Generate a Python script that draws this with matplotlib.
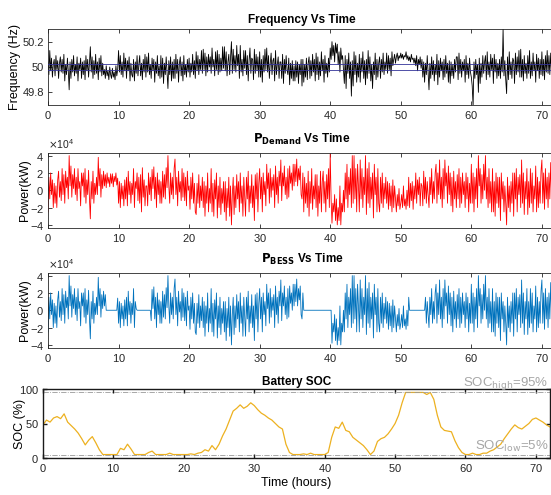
import numpy as np
import matplotlib.pyplot as plt

plt.rcParams['font.family'] = ['Liberation Sans', 'DejaVu Sans']
plt.rcParams['axes.formatter.use_mathtext'] = True

# time base for the fast signals (7.5 min steps) and for SOC (30 min steps)
hours = np.arange(0, 72.001, 0.125)
hours_soc = np.arange(0, 72.01, 0.5)

# grid frequency deviation from 50 Hz, in mHz (one row = one hour)
freq_dev_mhz = [
    40, -60, 130, -30, 70, -80, 20, 60,
    -70, 90, -20, 50, -90, 30, 80, -40,
    60, -50, 100, -110, 20, -60, 70, -30,
    -180, 40, -90, 60, -40, 90, -70, 20,
    -50, 80, -110, 30, -20, 70, -90, 40,
    -60, 50, -100, 90, -30, 60, -80, 30,
    160, -40, 80, -90, 50, -60, 100, -50,
    40, -100, 70, -40, 90, -70, 30, -60,
    -20, -90, 10, -70, -30, -100, 0, -60,
    -90, -10, -80, -40, -100, 10, -70, -20,
    130, -40, 90, -60, 40, -80, 110, -30,
    70, -90, 50, -30, 80, -110, 30, -60,
    -80, 60, -110, 40, -50, 90, -70, 20,
    90, -70, 30, -100, 60, -40, 100, -80,
    80, -40, 110, -60, 20, -90, 70, -30,
    60, -120, 40, -50, 90, -70, 10, -90,
    90, -80, 70, -130, 30, -60, 80, -40,
    -170, 50, -60, 80, -110, 40, -90, 60,
    -90, 100, -50, 60, -120, 30, 80, -70,
    40, -110, 90, -60, 20, -80, 60, -40,
    70, -80, 30, -40, 100, -60, 50, -90,
    120, -30, 90, -60, 60, -20, 130, -50,
    140, -20, 110, -70, 80, -40, 100, 0,
    80, -50, 150, 0, 60, -70, 120, -20,
    130, -60, 100, -40, 70, -30, 160, -10,
    160, -30, 120, -70, 40, 100, -60, 80,
    200, -50, 140, -20, 90, -40, 170, 10,
    100, -90, 170, -40, 60, -70, 130, -10,
    130, -60, 90, -110, 50, 150, -50, 70,
    60, -100, 140, -50, 100, -30, 80, -80,
    120, -80, 60, -120, 90, -40, 140, -20,
    150, -40, 90, -90, 30, 110, -60, 50,
    70, -110, 130, -60, 20, 80, -90, 40,
    40, -90, 100, -130, 60, -50, 90, -20,
    -60, 70, -140, 30, -90, 50, -110, 10,
    -110, 50, -80, 40, -130, 20, -60, 60,
    -150, 60, -120, 20, -80, 70, -100, 30,
    80, -90, 50, -70, 100, -40, 60, -110,
    110, -60, 80, -100, 40, -70, 120, -30,
    60, -120, 90, -50, 30, -80, 70, -40,
    150, 60, 200, 90, 170, 40, 190, 110,
    180, 20, 120, -40, 150, 60, 90, -20,
    -130, 90, -170, 60, -50, 110, -90, 40,
    -230, 50, -150, 120, -60, 90, -120, 30,
    -80, 100, -120, 70, -40, 120, -90, 50,
    -140, 60, -90, 130, -50, 80, -110, 20,
    -170, 40, -60, 110, -100, 60, -80, 30,
    80, -90, 60, -40, 110, -60, 40, -20,
    110, -50, 90, -20, 70, -70, 120, 10,
    60, 100, 30, 80, 110, 50, 90, 70,
    110, 70, 100, 60, 90, 80, 120, 60,
    90, 50, 80, 40, 100, 60, 70, 30,
    70, 10, 90, -30, 60, 20, 80, -10,
    60, -80, 40, -120, 30, -60, 90, -40,
    -180, 30, -90, 80, -60, 50, -110, 20,
    -60, 100, -140, 50, -80, 70, -30, 40,
    -100, 60, -80, 90, -50, 30, -120, 50,
    -130, 40, -70, 20, -90, 60, -40, 80,
    80, -100, 110, -50, 60, -80, 40, -30,
    60, -120, 90, -60, 30, -90, 70, -40,
    -80, -150, -310, 40, -90, 60, -60, 20,
    -200, 70, -130, 30, -80, 90, -50, 40,
    90, -100, 120, -60, 40, -80, 100, -20,
    70, -130, 100, -40, 60, -90, 30, -70,
    60, -90, 80, -40, 300, -70, 50, -100,
    -210, 80, -100, 120, -60, 40, -90, 70,
    50, -130, 110, -60, 80, -40, 130, -80,
    140, -80, 60, -110, 90, -50, 30, -90,
    90, -50, 130, -90, 40, -70, 110, -30,
    40, -120, 100, -30, 70, -90, 60, -60,
    120, -70, 60, -100, 90, -40, 130, -50,
    90, -60, 110, -40, 50, -80, 100, -20,
    30,
]

# power demand in units of 1e4 kW (one row = one hour)
demand_1e4kw = [
    -2.5, 1.5, -1.0, 2.0, -0.5, 1.2, -2.0, 0.8,
    -1.5, 0.5, -2.0, 1.2, 2.2, -0.8, 1.0, -1.2,
    2.5, -0.5, 1.8, -1.5, 2.2, 0.3, 1.5, -1.0,
    4.0, 0.5, 2.8, -0.8, 1.8, 0.2, 2.5, -0.5,
    1.5, -1.2, 2.5, 0.2, 1.0, -1.8, 2.0, 0.5,
    2.0, -0.8, 2.5, -1.5, 1.2, -0.5, 2.3, -1.0,
    -3.3, 1.0, -1.0, 2.2, -1.5, 0.8, -0.5, 1.5,
    -0.5, 3.8, 0.5, 2.5, -0.8, 1.8, 0.2, 2.2,
    0.5, 1.8, 0.3, 2.0, 0.8, 1.5, 0.4, 1.9,
    0.8, 1.9, 0.4, 1.6, 1.0, 2.0, 0.6, 1.4,
    -1.5, 1.0, -2.0, 0.8, -1.0, 0.5, -1.8, 1.2,
    -1.0, 1.5, -1.8, 2.2, -0.5, 1.0, -1.5, 0.8,
    -0.5, 2.5, -2.0, 1.0, 0.2, 2.0, -1.2, 1.5,
    -1.5, 1.8, -2.5, 2.6, -0.8, 1.2, -1.8, 0.5,
    0.5, -1.8, 2.0, -0.5, 1.5, -1.2, 2.4, 0.2,
    2.7, -1.0, 1.5, -2.0, 2.0, -0.5, 1.2, -1.5,
    1.0, -1.5, 2.2, -0.8, 1.8, -1.0, 2.6, 0.3,
    4.0, 0.5, -1.5, 2.0, -0.5, 1.5, -1.0, 2.5,
    3.6, -0.5, 1.5, -1.8, 2.2, -0.2, 1.0, -1.2,
    2.5, -0.8, 2.0, -1.2, 1.5, -1.8, 2.2, 0.0,
    0.5, -2.2, 1.5, -1.0, 2.0, -1.5, 0.8, -2.5,
    -2.8, 0.8, -1.5, 1.8, -2.0, 0.5, -1.2, 1.5,
    -2.0, 1.0, -3.0, 0.5, -1.5, 2.0, -2.5, 0.2,
    -1.5, 2.5, -2.5, 0.8, -3.0, 1.2, -1.0, 2.0,
    -3.2, 0.5, -2.0, 1.5, -2.8, 0.2, -1.5, 1.0,
    -2.5, 1.0, -3.5, 0.2, -2.0, 1.5, -3.0, 0.5,
    -4.0, -0.5, 1.5, -2.8, 0.5, -2.0, 1.8, -1.0,
    1.0, -2.5, 2.0, -1.5, 0.5, -3.0, 1.5, -0.8,
    -3.0, 1.5, -1.0, 2.2, -2.5, 0.5, -1.5, 1.8,
    -2.0, 0.5, -3.5, 1.8, -1.0, 2.0, -2.5, 0.8,
    2.5, -1.0, 1.5, -2.5, 2.0, -0.5, 1.0, -1.8,
    3.0, 0.2, 2.0, -1.5, 2.5, -0.8, 1.5, 0.0,
    1.8, -2.0, 2.8, -0.5, 1.5, -1.5, 2.2, 0.5,
    3.5, -1.2, 2.0, 0.5, 2.8, -0.5, 1.5, -1.0,
    2.5, -0.8, 2.8, 0.8, 2.0, 0.0, 3.0, 0.5,
    3.0, 1.0, 3.6, 0.5, 2.5, 1.2, 2.8, -0.5,
    -1.0, 2.0, -2.5, 1.5, -1.5, 0.8, -2.0, 2.2,
    -3.0, 1.0, -1.5, 2.5, -2.2, 0.5, -1.0, 1.8,
    -2.0, 1.8, -3.0, 0.5, -1.5, 2.2, -2.5, 1.0,
    2.2, -1.5, 1.0, -2.5, 1.8, -1.0, 2.5, -2.0,
    4.2, -1.0, -3.8, -1.5, -2.5, -0.5, -3.5, -1.0,
    -4.0, -2.0, -3.5, 0.5, -4.0, -1.5, -2.5, 0.0,
    -2.5, 2.0, -1.0, 3.0, -2.0, 1.5, -0.5, 2.5,
    -2.0, 4.0, -1.5, 4.0, -1.0, 2.5, -2.5, 3.0,
    0.5, -2.5, 3.5, -1.0, 2.5, -2.0, 1.5, -0.5,
    4.0, -2.8, 2.5, -1.5, 3.2, -2.0, 1.5, -1.0,
    2.0, -3.2, 3.0, -0.5, 1.5, -2.5, 2.5, -1.5,
    -2.5, 1.5, -1.5, 2.0, -2.0, 0.8, -1.0, 1.5,
    -1.5, 1.0, -2.2, 0.8, -1.8, 0.5, -2.5, 1.2,
    -2.0, 0.5, -1.0, -2.5, -0.5, -1.8, 0.2, -2.2,
    -1.5, -0.5, -2.0, 0.5, -1.8, -1.0, -2.2, 0.0,
    -1.8, 1.5, -2.0, 0.8, -1.2, 1.0, -2.2, 0.5,
    -1.0, 2.0, -1.5, 1.2, -0.5, 1.5, -1.8, 0.8,
    0.5, -1.8, 2.2, -1.0, 1.5, -1.5, 1.0, -0.5,
    -2.0, 1.5, -0.5, 2.5, -1.5, 1.0, -1.0, 2.0,
    3.0, -1.5, 2.0, -0.5, 3.5, -1.0, 1.5, -2.0,
    2.5, -1.0, 3.5, 0.5, 2.0, -1.5, 2.8, -0.5,
    2.0, -1.8, 1.5, -2.5, 2.2, -1.0, 1.0, -2.0,
    1.8, -1.0, 2.5, -2.0, 1.5, -1.5, 2.0, -0.5,
    1.0, -2.0, 2.0, -1.0, 1.5, -2.5, 0.8, -1.5,
    3.0, -1.5, 2.0, -2.5, 1.5, -1.0, 2.5, -2.0,
    4.0, 0.5, 2.5, -1.5, 1.8, -1.0, 3.0, 0.0,
    4.0, -1.0, 1.5, -2.0, 2.5, -1.5, 1.0, -2.5,
    2.5, -2.5, 1.0, -3.0, 2.0, -1.5, 1.5, -2.0,
    1.5, -3.5, 2.0, -1.0, 1.0, -2.5, 0.5, -1.5,
    -4.0, 1.5, -2.0, 0.5, -2.5, 1.0, -1.5, 2.0,
    -3.0, 2.0, -1.0, 2.5, -2.5, 1.5, -0.5, 1.8,
    -2.0, 3.5, -1.5, 2.0, -2.8, 1.0, -1.0, 2.5,
    -2.8, 1.0, -2.0, 2.5, -1.5, 2.0, -2.5, 0.5,
    -1.0, 2.8, -2.5, 1.5, -2.0, 1.0, -1.5, 2.2,
    3.5, -1.5, 2.0, -2.2, 2.5, -1.0, 1.5, -2.0,
    2.0, -1.0, 3.2, -0.5, 2.5, -1.5, 1.0, -1.0,
    1.0,
]

# periods (hours) where the battery sits at an SOC limit and delivers no power
bess_idle = [(8.2, 9.8), (12.6, 14.6), (36.2, 40.2), (51.2, 53.4)]

# battery state of charge, %
soc_pct = [
    48, 55, 52, 58, 60, 57, 64, 52, 47, 42, 36, 28, 19, 26, 31, 22,
    12, 5, 5, 5, 5, 5, 14, 12, 20, 13, 5, 5, 5, 5, 8, 10,
    5, 5, 5, 5, 7, 5, 5, 5, 5, 5, 6, 5, 7, 8, 12, 10,
    18, 12, 20, 32, 42, 55, 68, 72, 77, 72, 75, 80, 76, 70, 65, 62,
    58, 55, 50, 45, 42, 20, 8, 5, 5, 5, 6, 5, 7, 5, 5, 5,
    5, 8, 30, 45, 43, 52, 40, 38, 30, 26, 22, 18, 12, 5, 10, 24,
    28, 30, 35, 42, 50, 62, 80, 95, 95, 95, 95, 95, 95, 92, 95, 85,
    62, 45, 40, 39, 38, 25, 15, 8, 5, 5, 7, 5, 5, 7, 7, 10,
    12, 16, 20, 28, 35, 42, 48, 44, 42, 46, 50, 56, 58, 55, 52, 48,
    45,
]

freq = 50 + np.array(freq_dev_mhz) / 1000.0
demand = np.array(demand_1e4kw) * 1e4
bess = demand.copy()
for t0, t1 in bess_idle:
    bess[(hours > t0) & (hours < t1)] = 0.0

fig = plt.figure(figsize=(5.51, 4.95), dpi=100)
W, H = 551.0, 495.0


def make_axes(left, top, bottom, right):
    return fig.add_axes([left / W, (H - bottom) / H, (right - left) / W, (bottom - top) / H])


def matlab_style(ax, frame='0.15', lw=0.6):
    ax.set_xlim(0, 72)
    ax.set_xticks(range(0, 71, 10))
    ax.tick_params(direction='in', top=True, right=True, length=3, width=lw,
                   labelsize=8, colors=frame, labelcolor='0.15', pad=3)
    for s in ax.spines.values():
        s.set_color(frame)
        s.set_linewidth(lw)


ax1 = make_axes(48, 29, 105, 556)
ax2 = make_axes(48, 153, 227.5, 556)
ax3 = make_axes(48, 273, 347.5, 556)
ax4 = make_axes(43, 389, 458, 550)

# frequency
ax1.plot(hours, freq, color='k', lw=0.6)
ax1.axhline(50.02, color=(0.2, 0.2, 0.6), lw=0.6, zorder=3)
ax1.axhline(49.98, color=(0.2, 0.2, 0.6), lw=0.6, zorder=3)
ax1.set_ylim(49.7, 50.3)
ax1.set_yticks([49.8, 50, 50.2])
ax1.set_yticklabels(['49.8', '50', '50.2'])
ax1.set_ylabel('Frequency (Hz)', fontsize=9, labelpad=1)
ax1.set_title('Frequency Vs Time', fontsize=8.5, fontweight='bold', pad=4)
matlab_style(ax1)

# demand and battery power
for ax, p, c, name in [(ax2, demand, 'r', 'Demand'), (ax3, bess, '#0072BD', 'BESS')]:
    ax.plot(hours, p, color=c, lw=0.6)
    ax.set_ylim(-4.3e4, 4.3e4)
    ax.set_yticks([-4e4, -2e4, 0, 2e4, 4e4])
    ax.ticklabel_format(axis='y', style='sci', scilimits=(0, 0))
    ax.yaxis.get_offset_text().set_fontsize(7.5)
    ax.yaxis.get_offset_text().set_color('0.3')
    ax.set_ylabel('Power(kW)', fontsize=9, labelpad=-0.9)
    ax.set_title(r'$\mathbf{P_{' + name + r'}}$ Vs Time', fontsize=8.5, fontweight='bold', pad=7.5)
    matlab_style(ax)

# state of charge
ax4.plot(hours_soc, soc_pct, color='#EDB120', lw=0.9)
ax4.axhline(95, color='0.6', ls='-.', lw=0.6)
ax4.axhline(5, color='0.6', ls='-.', lw=0.6)
ax4.text(71.8, 96, r'SOC$_{\mathrm{high}}$=95%', color='0.65', fontsize=9.5, ha='right', va='bottom')
ax4.text(71.8, 6, r'SOC$_{\mathrm{low}}$=5%', color='0.65', fontsize=9.5, ha='right', va='bottom')
ax4.set_ylim(0, 100)
ax4.set_yticks([0, 50, 100])
ax4.set_ylabel('SOC (%)', fontsize=9, labelpad=-5)
ax4.set_xlabel('Time (hours)', fontsize=9, labelpad=2)
ax4.set_title('Battery SOC', fontsize=8.5, fontweight='bold', pad=3)
matlab_style(ax4, frame='0.1', lw=1.0)

fig.savefig('out.png', dpi=100)
